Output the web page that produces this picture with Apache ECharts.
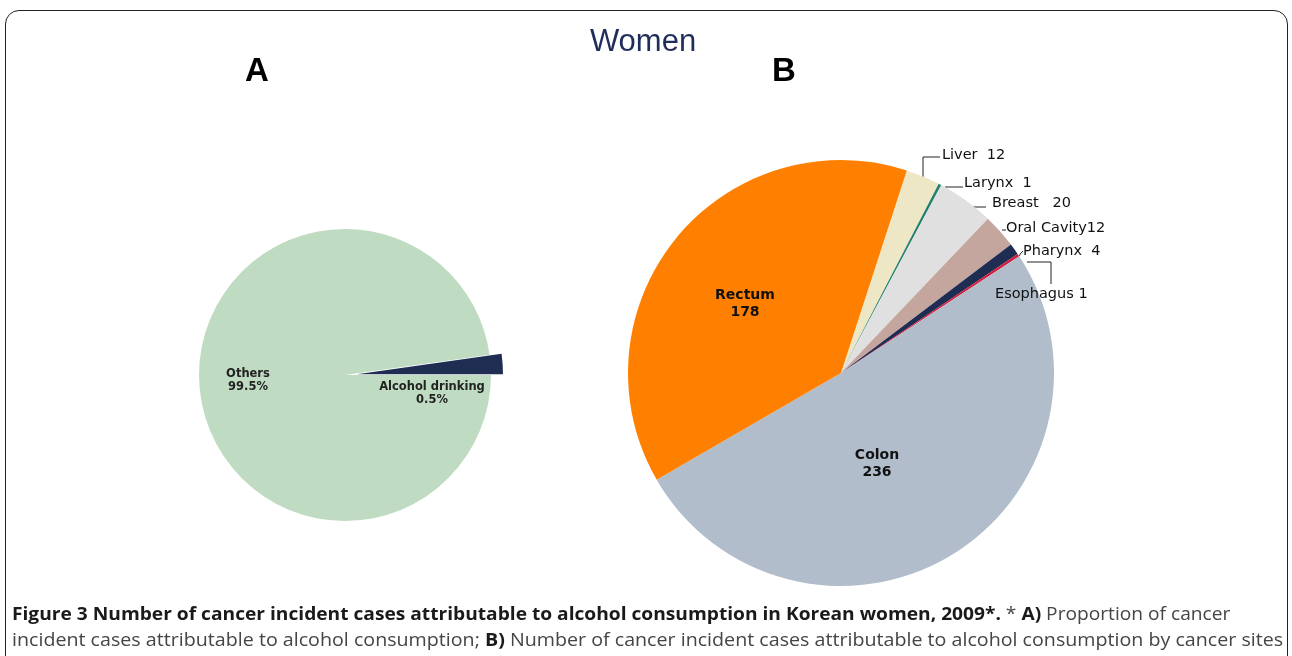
<!DOCTYPE html>
<html><head><meta charset="utf-8">
<script src="https://cdn.jsdelivr.net/npm/echarts@6/dist/echarts.min.js"></script>
<style>
html,body{margin:0;padding:0;background:#fff;}
#wrap{position:relative;width:1292px;height:656px;overflow:hidden;background:#fff;}
#chart{position:absolute;left:0;top:0;width:1292px;height:656px;}
#frame{position:absolute;left:5px;top:10px;width:1283px;height:720px;border:1.5px solid #222;border-radius:14px;box-sizing:border-box;}
.cap{position:absolute;left:12px;white-space:nowrap;font-family:"Open Sans",sans-serif;font-size:18px;line-height:22px;color:#454545;transform-origin:0 50%;}
.cap b{color:#1a1a1a;font-weight:700;}
</style></head>
<body><div id="wrap"><div id="frame"></div><div id="chart"></div>
<div class="cap" id="cap1" style="top:602px"><b>Figure 3 Number of cancer incident cases attributable to alcohol consumption in Korean women, 2009*.</b> * <b>A)</b> Proportion of cancer</div>
<div class="cap" id="cap2" style="top:628px">incident cases attributable to alcohol consumption; <b>B)</b> Number of cancer incident cases attributable to alcohol consumption by cancer sites</div>
</div>
<script>
// ---- data ----
const chartTitle = 'Women';
const panelLabels = ['A', 'B'];
const catA = ['Alcohol drinking', 'Others'];
const valA = [0.5, 99.5];            // percent
const catB = ['Liver', 'Larynx', 'Breast', 'Oral Cavity', 'Pharynx', 'Esophagus', 'Colon', 'Rectum'];
const valB = [12, 1, 20, 12, 4, 1, 236, 178];
const sepB = ['  ', '  ', '   ', '', '  ', ' ', '\n', '\n'];

// ---- styles ----
const colA = ['#1f2d52', '#bfdcc2'];
const colB = ['#eee7c6', '#23806f', '#e0e0e0', '#c4a69e', '#1f2d52', '#d41b3c', '#b1bdcb', '#ff8000'];
const labPosA = [[432, 394], [248, 381]];
const labPosB = [[942, 155], [964, 183], [992, 203], [1006, 228], [1023, 251], [995, 294], [877, 464], [745, 304]];
const linesB = [
  [[923,178],[923,157],[940,157]],
  [[945,187],[954,187],[963,187]],
  [[973,207],[979,207],[986,207]],
  [[1002,230],[1004,230],[1006,230]],
  [[1019,256],[1021,253],[1023,251]],
  [[1027,262],[1051,262],[1051,284]],
  null, null
];
const centerA = [345, 375];
const explodeA = 12;   // px, exploded slice offset

const chart = echarts.init(document.getElementById('chart'), null, {renderer: 'canvas'});

// Panel A: two layered pies from the same data; the exploded slice is drawn by the second one
function dataAFor(visibleIdx) {
  return catA.map((n, i) => ({
    name: n, value: valA[i],
    itemStyle: {color: i === visibleIdx ? colA[i] : 'rgba(0,0,0,0)'},
    label: {show: i === visibleIdx}
  }));
}
const bisA = 4 * Math.PI / 180;
const centerAExp = [centerA[0] + explodeA * Math.cos(bisA), centerA[1] - explodeA * Math.sin(bisA)];

const labelA = {
  show: true, position: 'inside',
  formatter: p => p.name + '\n' + p.value + '%',
  fontFamily: 'DejaVu Sans', fontWeight: 'bold', fontSize: 11.5, lineHeight: 13,
  color: '#222', align: 'center'
};
const pieABase = {
  type: 'pie', silent: true, radius: 146,
  startAngle: 8, clockwise: true, minAngle: 8,
  avoidLabelOverlap: false,
  itemStyle: {borderWidth: 0},
  emphasis: {disabled: true},
  label: labelA,
  labelLine: {show: false},
  labelLayout: p => ({x: labPosA[p.dataIndex][0], y: labPosA[p.dataIndex][1], align: 'center', verticalAlign: 'middle'})
};

const dataB = catB.map((n, i) => ({
  name: n, value: valB[i],
  itemStyle: {color: colB[i]},
  label: i >= 6 ? {position: 'inside', fontFamily: 'DejaVu Sans', fontWeight: 'bold', fontSize: 14, color: '#111', lineHeight: 17, align: 'center'} : {},
  labelLine: {show: i < 6}
}));

chart.setOption({
  animation: false,
  title: [
    {text: chartTitle, left: 638, top: 22, textAlign: 'center',
     textStyle: {fontFamily: 'Liberation Sans', fontWeight: 'normal', fontSize: 31, color: '#1f2d5a'}},
    {text: panelLabels[0], left: 252, top: 50, textAlign: 'center',
     textStyle: {fontFamily: 'Liberation Sans', fontWeight: 'bold', fontSize: 33, color: '#000'}},
    {text: panelLabels[1], left: 779, top: 50, textAlign: 'center',
     textStyle: {fontFamily: 'Liberation Sans', fontWeight: 'bold', fontSize: 33, color: '#000'}}
  ],
  series: [
    Object.assign({}, pieABase, {center: centerA, data: dataAFor(1), z: 2}),
    Object.assign({}, pieABase, {center: centerAExp, data: dataAFor(0), z: 3}),
    {
      type: 'pie', silent: true,
      center: [841, 373], radius: 213,
      startAngle: 72, clockwise: true,
      avoidLabelOverlap: false,
      itemStyle: {borderWidth: 0},
      emphasis: {disabled: true},
      label: {
        show: true, position: 'outside',
        formatter: p => p.name + sepB[p.dataIndex] + p.value,
        fontFamily: 'DejaVu Sans', fontSize: 14.5, color: '#111'
      },
      labelLine: {show: true, lineStyle: {color: '#222', width: 1}},
      labelLayout: p => {
        const i = p.dataIndex;
        const o = {x: labPosB[i][0], y: labPosB[i][1], verticalAlign: 'middle', align: i >= 6 ? 'center' : 'left'};
        if (linesB[i]) o.labelLinePoints = linesB[i];
        return o;
      },
      data: dataB
    }
  ]
});

function fit(id, target) {
  const el = document.getElementById(id);
  const w = el.scrollWidth;
  el.style.transform = 'scaleX(' + (target / w) + ')';
}
fit('cap1', 1218);
fit('cap2', 1271);
</script>
</body></html>
